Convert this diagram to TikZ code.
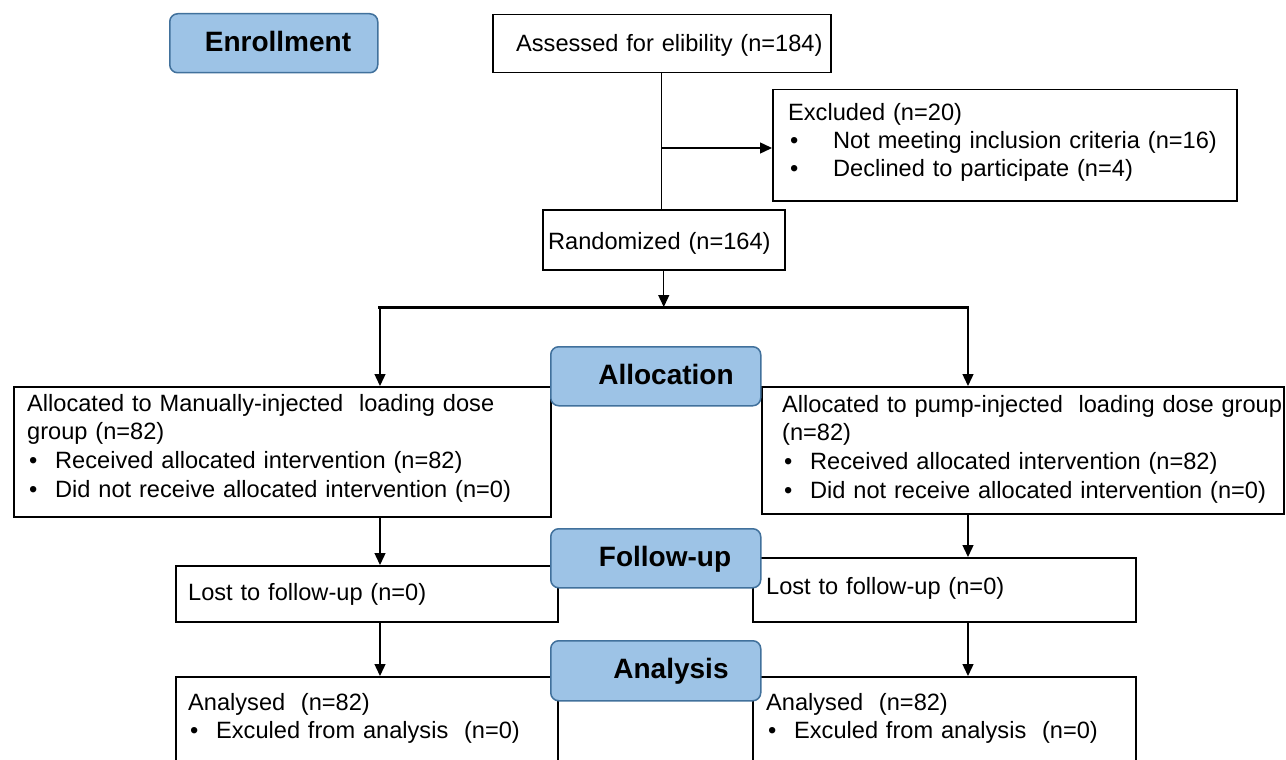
\documentclass[tikz,border=0pt]{standalone}
\usepackage{fontspec}
\setmainfont{Liberation Sans}
\usetikzlibrary{arrows.meta,calc}
\definecolor{lblfill}{HTML}{9DC3E6}
\definecolor{lbldraw}{HTML}{41719C}
\newcommand{\bodyfont}{\fontsize{23.6}{28.8}\selectfont}
\newcommand{\labfont}{\fontsize{28}{34}\selectfont\bfseries}
\newcommand{\bul}[1][28pt]{\makebox[#1][l]{\hspace{2pt}\textbullet}}
\tikzset{
  boxnode/.style={draw, line width=1.5pt, inner sep=0pt, anchor=north west, fill=white},
  lbl/.style={draw=lbldraw, fill=lblfill, line width=1.5pt, rounded corners=8pt, anchor=north west, inner sep=0pt},
  lbltxt/.style={anchor=base, font=\labfont, inner sep=0pt},
  txt/.style={anchor=base west, inner sep=0pt, font=\bodyfont, align=left, text width=560pt},
  arr/.style={line width=1.4pt, -{Triangle[length=12pt,width=11pt]}},
}
\begin{document}
\begin{tikzpicture}[x=1pt,y=-1pt]
\clip (0,0) rectangle (1286,760);
\fill[white] (0,0) rectangle (1286,760);
% boxes
\node[boxnode, minimum width=338pt, minimum height=58pt] (assess) at (492,14) {};
\node[boxnode, minimum width=464pt, minimum height=111pt] (excl) at (772,89) {};
\node[boxnode, minimum width=242pt, minimum height=60pt] (rand) at (542,209) {};
\node[boxnode, minimum width=537pt, minimum height=130pt] (allocL) at (13,386) {};
\node[boxnode, minimum width=522pt, minimum height=127pt] (allocR) at (761,386) {};
\node[boxnode, minimum width=382pt, minimum height=56pt] (lostL) at (175,565) {};
\node[boxnode, minimum width=383pt, minimum height=64pt] (lostR) at (752,557) {};
\node[boxnode, minimum width=382pt, minimum height=120pt] (anaL) at (175,676) {};
\node[boxnode, minimum width=383pt, minimum height=120pt] (anaR) at (752,676) {};
% texts
\node[txt] (tAssess) at (516,52) {Assessed for elibility (n=184)};
\node[txt, font=\fontsize{23.6}{28}\selectfont] (tExcl) at (788,121) {Excluded (n=20)\\
  \bul[45pt]Not meeting inclusion criteria (n=16)\\
  \bul[45pt]Declined to participate (n=4)};
\node[txt] (tRand) at (548,249) {Randomized (n=164)};
\node[txt] (tAllocL) at (27,411) {Allocated to Manually-injected\ \ loading dose\\
  group (n=82)\\
  \bul Received allocated intervention (n=82)\\
  \bul Did not receive allocated intervention (n=0)};
\node[txt] (tAllocR) at (782,412) {Allocated to pump-injected\ \ loading dose group\\
  (n=82)\\
  \bul Received allocated intervention (n=82)\\
  \bul Did not receive allocated intervention (n=0)};
\node[txt] (tLostL) at (188,600) {Lost to follow-up (n=0)};
\node[txt] (tLostR) at (766,594) {Lost to follow-up (n=0)};
\node[txt] (tAnaL) at (188,710) {Analysed\ \ (n=82)\\
  \bul Exculed from analysis\ \ (n=0)};
\node[txt] (tAnaR) at (766,710) {Analysed\ \ (n=82)\\
  \bul Exculed from analysis\ \ (n=0)};
% connectors
\coordinate (br) at (661,148);
\coordinate (sl) at (380,307);
\coordinate (sr) at (968,307);
\draw[line width=1.4pt] (assess.south) -- (assess.south |- rand.north);
\draw[arr] (br) -- (br -| excl.west);
\draw[arr] (rand.south) -- (rand.south |- sl);
\draw[line width=3pt] ($(sl)+(-2,0)$) -- ($(sr)+(1,0)$);
\draw[arr] (sl) -- (sl |- allocL.north);
\draw[arr] (sr) -- (sr |- allocR.north);
\draw[arr] (sl |- allocL.south) -- (sl |- lostL.north);
\draw[arr] (sr |- allocR.south) -- (sr |- lostR.north);
\draw[arr] (sl |- lostL.south) -- (sl |- anaL.north);
\draw[arr] (sr |- lostR.south) -- (sr |- anaR.north);
% stage labels
\node[lbl, minimum width=208pt, minimum height=59pt] (enr) at (169,13) {};
\node[lbltxt] (tEnr) at (278,52) {Enrollment};
\node[lbl, minimum width=210pt, minimum height=59pt] (alloc) at (550,346) {};
\node[lbltxt] (tAlloc) at (666,384) {Allocation};
\node[lbl, minimum width=210pt, minimum height=59pt] (fu) at (550,528) {};
\node[lbltxt] (tFu) at (665,566) {Follow-up};
\node[lbl, minimum width=210pt, minimum height=60pt] (ana) at (550,640) {};
\node[lbltxt] (tAna) at (671,678) {Analysis};
\end{tikzpicture}
\end{document}
